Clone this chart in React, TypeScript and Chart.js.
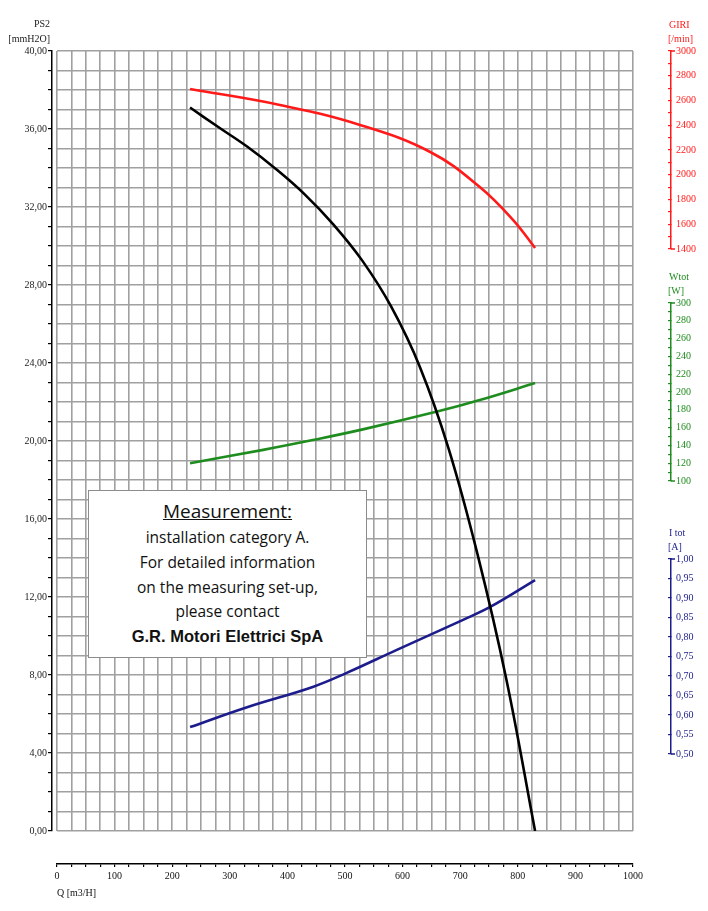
import { useEffect, useRef } from 'react';
import { Chart, registerables } from 'chart.js';

Chart.register(...registerables);

// Pressure curve PS2 [mmH2O] vs Q [m3/H]
const flowPS2 = [231, 280, 330, 380, 430, 480, 530, 580, 630, 680, 730, 780, 830];
const ps2 = [37.1, 36.1, 35.1, 33.95, 32.65, 31.1, 29.25, 26.9, 23.8, 19.6, 14.2, 7.8, 0];

// Speed GIRI [/min]
const flowRpm = [231, 387, 526, 648, 734, 792, 830];
const rpm = [2693, 2564, 2402, 2184, 1901, 1634, 1408];

// Power Wtot [W]
const flowW = [231, 358, 444, 531, 660, 734, 830];
const watts = [120, 135, 146, 158, 178, 191, 210];

// Current I tot [A]
const flowI = [231, 330, 444, 503, 590, 705, 752, 830];
const amps = [0.569, 0.62, 0.672, 0.708, 0.767, 0.844, 0.877, 0.946];

const RED = '#ff1a1a';
const GREEN = '#1e8c1e';
const BLUE = '#1c1c8c';
const GRID = '#a0a0a0';
const SERIF = '"Liberation Serif", "DejaVu Serif", serif';

const boxLines = [
  'installation category A.',
  'For detailed information',
  'on the measuring set-up,',
  'please contact',
];

const pts = (xs: number[], ys: number[]) => xs.map((x, i) => ({ x, y: ys[i] }));
const comma2 = (v: number) => v.toFixed(2).replace('.', ',');

const rightAxes = [
  { id: 'yr', color: RED, t1: 'GIRI', t2: '[/min]' },
  { id: 'yg', color: GREEN, t1: 'Wtot', t2: '[W]' },
  { id: 'yb', color: BLUE, t1: 'I tot', t2: '[A]' },
];

const titlesPlugin = {
  id: 'axisTitles',
  afterDraw(chart: any) {
    const ctx = chart.ctx;
    ctx.save();
    ctx.font = `10px ${SERIF}`;
    ctx.textBaseline = 'middle';
    const yl = chart.scales.yl;
    ctx.fillStyle = '#222';
    ctx.textAlign = 'right';
    ctx.fillText('PS2', yl.right - 2, yl.top - 27);
    ctx.fillText('[mmH2O]', yl.right - 2, yl.top - 12);
    ctx.textAlign = 'left';
    for (const a of rightAxes) {
      const s = chart.scales[a.id];
      ctx.fillStyle = a.color;
      ctx.fillText(a.t1, s.left - 2, s.top - 26);
      ctx.fillText(a.t2, s.left - 3, s.top - 12);
      ctx.strokeStyle = a.color;
      ctx.lineWidth = 1.5;
      ctx.beginPath();
      ctx.moveTo(s.left, s.top);
      ctx.lineTo(s.left + 4, s.top);
      ctx.moveTo(s.left, s.bottom);
      ctx.lineTo(s.left + 4, s.bottom);
      ctx.stroke();
    }
    ctx.restore();
  },
};

const hiddenRight = (w: number, extra: any = {}) => ({
  type: 'linear',
  position: 'right',
  display: true,
  ticks: { display: false },
  grid: { display: false },
  border: { display: false },
  afterFit: (s: any) => {
    s.width = w;
  },
  ...extra,
});

const rightScale = (color: string, weight: number, min: number, max: number, step: number, cb: (v: number) => string) => ({
  type: 'linear',
  position: 'right',
  stack: 'right',
  stackWeight: weight,
  min,
  max,
  afterFit: (s: any) => {
    s.width = 37;
  },
  border: { color, width: 1.5 },
  grid: { drawOnChartArea: false, color, lineWidth: 1.2, tickLength: -3 },
  ticks: {
    stepSize: step,
    autoSkip: false,
    color,
    padding: 8,
    font: { family: SERIF, size: 10 },
    callback: (v: any) => cb(Number(v)),
  },
});

export default function App() {
  const ref = useRef<HTMLCanvasElement>(null);

  useEffect(() => {
    document.body.style.margin = '0';
    const chart = new Chart(ref.current!, {
      type: 'line',
      data: {
        datasets: [
          { label: 'PS2', data: pts(flowPS2, ps2), xAxisID: 'x', yAxisID: 'y', borderColor: '#000', borderWidth: 2.6 },
          { label: 'GIRI', data: pts(flowRpm, rpm), xAxisID: 'x', yAxisID: 'yr', borderColor: RED, borderWidth: 2.6 },
          { label: 'Wtot', data: pts(flowW, watts), xAxisID: 'x', yAxisID: 'yg', borderColor: GREEN, borderWidth: 2.6 },
          { label: 'I tot', data: pts(flowI, amps), xAxisID: 'x', yAxisID: 'yb', borderColor: BLUE, borderWidth: 2.6 },
        ] as any,
      },
      options: {
        responsive: false,
        animation: false,
        layout: { padding: { top: 51, left: 0, right: 0, bottom: 0 } },
        elements: {
          point: { radius: 0 },
          line: { tension: 0.4, fill: false },
        },
        plugins: { legend: { display: false }, tooltip: { enabled: false } },
        scales: {
          x: {
            type: 'linear',
            position: 'bottom',
            min: 0,
            max: 1000,
            afterFit: (s: any) => {
              s.height = 33;
            },
            ticks: { display: false, stepSize: 25 },
            grid: { color: GRID, lineWidth: 1.6, drawTicks: false },
            border: { display: false },
          },
          y: {
            type: 'linear',
            position: 'left',
            min: 0,
            max: 40,
            afterFit: (s: any) => {
              s.width = 5;
            },
            ticks: { display: false, stepSize: 1 },
            grid: { color: GRID, lineWidth: 1.6, drawTicks: false },
            border: { display: false },
          },
          yl: {
            type: 'linear',
            position: 'left',
            min: 0,
            max: 40,
            afterFit: (s: any) => {
              s.width = 52;
            },
            border: { color: '#000', width: 1.5 },
            grid: { drawOnChartArea: false, color: '#000', tickLength: 4, lineWidth: 1.2 },
            ticks: {
              stepSize: 1,
              autoSkip: false,
              padding: 1,
              color: '#222',
              font: { family: SERIF, size: 10 },
              callback: (v: any) => (Number(v) % 4 === 0 ? comma2(Number(v)) : ''),
            },
          },
          spacer: hiddenRight(38),
          yr: rightScale(RED, 198, 1400, 3000, 100, (v) => (v % 200 === 0 ? String(v) : '')),
          gapA: hiddenRight(0, { stack: 'right', stackWeight: 54 }),
          yg: rightScale(GREEN, 178, 100, 300, 10, (v) => (Math.round(v) % 20 === 0 ? String(Math.round(v)) : '')),
          gapB: hiddenRight(0, { stack: 'right', stackWeight: 78 }),
          yb: rightScale(BLUE, 195, 0.5, 1.0, 0.05, (v) => comma2(v)),
          gapC: hiddenRight(0, { stack: 'right', stackWeight: 77 }),
          x2: {
            type: 'linear',
            position: 'bottom',
            min: 0,
            max: 1000,
            afterFit: (s: any) => {
              s.height = 47;
            },
            border: { color: '#000', width: 1.5 },
            grid: { drawOnChartArea: false, color: '#000', tickLength: 3, lineWidth: 1.2 },
            ticks: {
              stepSize: 25,
              autoSkip: false,
              maxRotation: 0,
              padding: 3,
              color: '#111',
              font: { family: SERIF, size: 10 },
              callback: (v: any) => (Number(v) % 100 === 0 ? String(v) : ''),
            },
            title: {
              display: true,
              text: 'Q [m3/H]',
              align: 'start',
              color: '#111',
              font: { family: SERIF, size: 10 },
              padding: { top: 0, bottom: 12 },
            },
          },
        } as any,
      },
      plugins: [titlesPlugin],
    });
    return () => chart.destroy();
  }, []);

  return (
    <div style={{ position: 'relative', width: 708, height: 911, background: '#fff' }}>
      <canvas ref={ref} width={708} height={911} style={{ display: 'block', width: 708, height: 911 }} />
      <div
        style={{
          position: 'absolute',
          left: 88,
          top: 490,
          width: 279,
          height: 168,
          boxSizing: 'border-box',
          border: '1px solid #8c8c8c',
          background: '#fff',
          textAlign: 'center',
          fontFamily: '"Open Sans", Lato, sans-serif',
          color: '#111',
          paddingTop: 7,
        }}
      >
        <div style={{ fontSize: 19, lineHeight: '27px', textDecoration: 'underline' }}>Measurement:</div>
        {boxLines.map((t) => (
          <div key={t} style={{ fontSize: 15.5, lineHeight: '24.8px' }}>
            {t}
          </div>
        ))}
        <div
          style={{
            fontSize: 16.5,
            lineHeight: '24.8px',
            fontWeight: 'bold',
            fontFamily: '"Liberation Sans", Arial, sans-serif',
          }}
        >
          G.R. Motori Elettrici SpA
        </div>
      </div>
    </div>
  );
}
